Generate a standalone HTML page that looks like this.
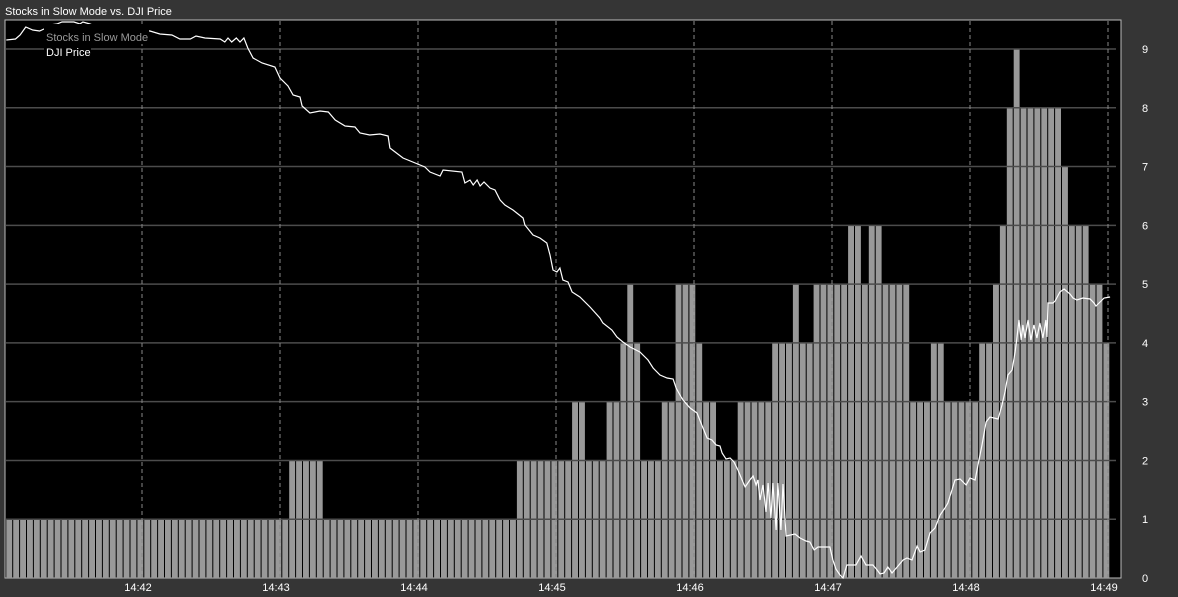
<!DOCTYPE html>
<html><head><meta charset="utf-8"><style>
html,body{margin:0;padding:0;background:#333;}
svg{display:block;font-family:"Liberation Sans",sans-serif;}
</style></head><body>
<svg id="chart" width="1178" height="597" viewBox="0 0 1178 597">
<rect x="0" y="0" width="1178" height="597" fill="#353535"/>
<text x="5" y="15" fill="#fff" font-size="11">Stocks in Slow Mode vs. DJI Price</text>
<rect x="5" y="20" width="1116" height="558" fill="#000" stroke="#bbb" stroke-width="1"/>
<g id="bars"></g><g id="grid"></g><g id="axes"></g><g id="line"></g>
<g>
<rect x="44" y="24" width="105" height="20" fill="#000"/>
<rect x="44" y="44" width="47" height="14" fill="#000"/>
<text x="46" y="41" fill="#999" font-size="11">Stocks in Slow Mode</text>
<text x="46" y="56" fill="#fff" font-size="11">DJI Price</text>
</g>
</svg>
<script>
// bar data: count of stocks in slow mode, one bar every 3 s starting at 14:41:01
const barStartSec = 1;
const barStepSec = 3;
const slowCounts = [
1,1,1,1,1,1,1,1,1,1,1,1,1,1,1,1,1,1,1,1,1,1,1,1,1,1,1,1,1,1,1,1,1,1,1,1,1,1,1,1,1,
2,2,2,2,2,
1,1,1,1,1,1,1,1,1,1,1,1,1,1,1,1,1,1,1,1,1,1,1,1,1,1,1,1,
2,2,2,2,2,2,2,2,
3,3,2,2,2,3,3,4,5,4,2,2,2,3,3,5,5,5,4,3,3,2,2,2,
3,3,3,3,3,4,4,4,5,4,4,5,5,5,5,5,6,6,5,6,6,5,5,5,5,
3,3,3,4,4,3,3,3,3,3,4,4,5,6,8,9,8,8,8,8,8,8,7,6,6,6,5,5,4];
// DJI price: seconds since 14:41:00 and price
const djiSec = [1,5,7,9.5,12.5,15.5,18.3,20,23,25.2,30.4,33,34.3,37.4,46,54.8,63.5,67.8,73,76.5,81,83.5,87.4,94,96,97.4,99,101,102.6,104.3,106,108.3,112.2,117.8,120,123.5,125.7,128.7,129.6,133,137.4,141,144,148.3,152.6,154.8,159,163.5,167,167.8,173.5,180.9,183,185.2,189.6,190.9,199.1,200.4,202.6,204,205.7,207,208.7,211.3,213.5,215.7,217.8,221.3,225.7,226.5,230,233,236,237.4,238.7,240.4,241.7,243,245.2,247,250.4,254.8,259.1,260.4,264.3,266.5,269.1,272.2,276.5,280,282.2,285.2,288.3,290.9,292.2,293.9,295.2,298.3,301.3,303.9,305.7,307.8,309.6,311.3,312.2,313.9,315.7,317.4,319.1,320.9,322.2,324.3,325.7,327,327.8,328.7,330,331.3,332.2,333.5,334.3,335.7,336.5,337.8,338.7,340,343.9,346.1,348.7,350.4,352.2,353.9,359.1,360.4,361.7,363.5,364.8,366.5,370.4,372.6,374.8,377.8,379.6,380.9,382.6,384.3,386.1,388.7,390.9,392.6,394.8,397,398.3,400.4,402.6,404.8,407,409.1,410.4,413.5,415.7,418.3,420,422.2,423.5,425.2,427,428.7,432.2,433.9,435.2,436.5,438.3,439.6,440.4,441.3,442.2,443,443.9,445.2,446.5,447.8,449.1,450.4,451.7,453,453.5,453.9,456.1,457,459.1,460.9,463.5,464.8,466.5,469.1,472.2,473.9,474.8,477,478.3,480.9];
const djiPrice = [12780,12780.5,12782.5,12786.5,12785,12784.5,12786,12787.5,12788,12789,12789,12788,12789,12788,12784,12785,12784.5,12783,12782.5,12780.5,12780.5,12782,12781,12780.5,12779,12781,12779,12781,12779,12781,12776,12771,12768.5,12766.5,12761,12757,12752.5,12751.5,12747,12743.5,12744.5,12744,12740,12737,12736.5,12733.5,12732.5,12733,12732,12726,12721,12717.5,12716.5,12714,12712,12715,12714,12708.5,12710,12707.5,12710,12707,12709,12706,12705,12700,12697.5,12695,12691,12687.5,12682.5,12681,12678.5,12672.5,12665,12664,12666,12660,12659,12654,12651.5,12646.5,12641,12638.5,12635,12631.5,12629,12626.5,12624,12620,12616,12612.5,12611,12610.5,12606,12602.5,12600,12596,12593.5,12586,12581,12580,12577.5,12577,12573.5,12570.5,12571,12569,12565,12560,12556.5,12560,12562,12557.5,12560,12550,12557.5,12544,12558.5,12541,12558.5,12535,12558.5,12535,12558,12532,12533,12531,12529.5,12529,12525,12526.5,12526.5,12520,12515.5,12512.5,12511,12517.5,12517.5,12522,12517.5,12517.5,12515,12513,12513.5,12516.5,12513.5,12517,12520,12521,12520,12527,12524,12525,12533.5,12536,12542.5,12546,12548.5,12560,12560.5,12557.5,12561,12560,12567.5,12577.5,12589,12591.5,12590.5,12597.5,12604,12612.5,12615,12624,12631,12640,12630,12637.5,12631,12640,12630,12637.5,12631,12638.5,12631,12640,12631.5,12648.5,12648.5,12649.5,12654,12655.5,12653,12651,12650,12651,12650.5,12648.5,12647,12649.5,12651,12651.5];
const yTicks = [0,1,2,3,4,5,6,7,8,9];
const xTickSec = [60,120,180,240,300,360,420,480];
const xTickLabels = ["14:42","14:43","14:44","14:45","14:46","14:47","14:48","14:49"];

const NS = "http://www.w3.org/2000/svg";
const xScale = s => 4 + s * 2.3;
const yScale = v => 578 - v * (529 / 9);
const pScale = p => (12800 - p) * 2;
function mk(tag, attrs, parent){const e=document.createElementNS(NS,tag);for(const k in attrs)e.setAttribute(k,attrs[k]);parent.appendChild(e);return e;}
const grid=document.getElementById('grid'), bars=document.getElementById('bars'), line=document.getElementById('line'), axes=document.getElementById('axes');

yTicks.forEach(v=>{
  if(v>0){const g=mk('line',{x1:6,x2:1116,y1:yScale(v),y2:yScale(v),stroke:'#4c4c4c','stroke-width':1.5},grid);
  
  }
  const t=mk('text',{x:1145,y:yScale(v)+4,fill:'#fff','font-size':11,'text-anchor':'middle'},axes);
  t.textContent=v;
  
  
});
xTickSec.forEach((s,i)=>{
  const x=xScale(s);
  const g=mk('line',{x1:x,x2:x,y1:21,y2:577,stroke:'#888','stroke-width':1,'stroke-dasharray':'4,3'},axes);
  
  
  const t=mk('text',{x:x-4,y:591,fill:'#fff','font-size':11,'text-anchor':'middle'},axes);
  t.textContent=xTickLabels[i];
  
  
});
slowCounts.forEach((v,i)=>{
  const s=barStartSec+i*barStepSec;
  const x=xScale(s), w=barStepSec*2.3-1;
  const r=mk('rect',{x:x,y:yScale(v),width:w,height:578-yScale(v),fill:'#999'},bars);
  
  
});
const pts=djiSec.map((s,i)=>xScale(s).toFixed(1)+','+pScale(djiPrice[i]).toFixed(1)).join(' ');
const pl=mk('polyline',{points:pts,fill:'none',stroke:'#fff','stroke-width':1.2},line);


</script>
</body></html>
